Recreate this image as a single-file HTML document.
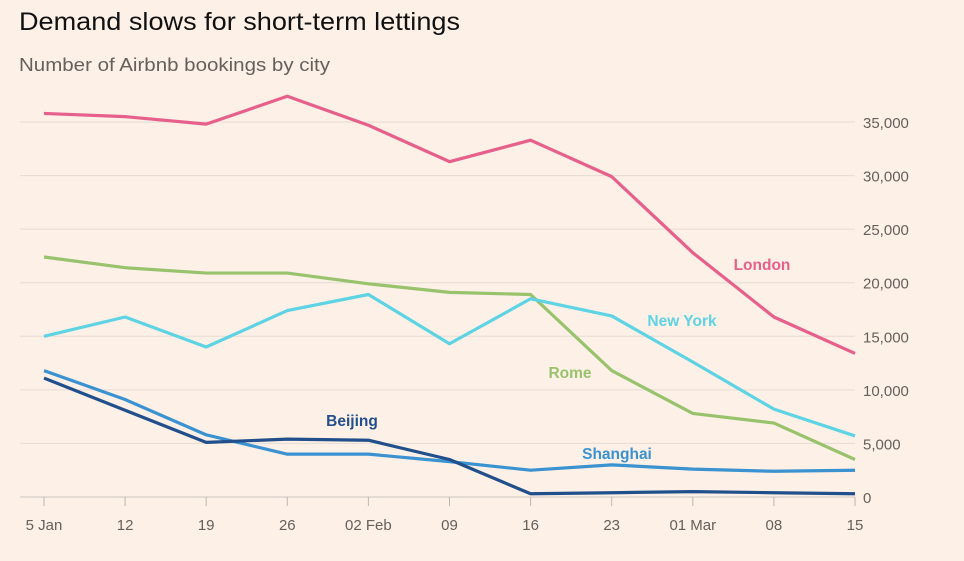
<!DOCTYPE html>
<html><head><meta charset="utf-8"><style>
body{margin:0;background:#fcf0e7;width:964px;height:556px;overflow:hidden;font-family:"Liberation Sans",sans-serif}
</style></head><body>
<svg width="964" height="556">
<text x="19" y="30" font-size="25" fill="#111" textLength="441" lengthAdjust="spacingAndGlyphs">Demand slows for short-term lettings</text>
<text x="19" y="71" font-size="18" fill="#66605c" textLength="311" lengthAdjust="spacingAndGlyphs">Number of Airbnb bookings by city</text>
<g id="grid"></g><g id="lines"></g><g id="labels"></g>
</svg>
<script>
const categories=["5 Jan","12","19","26","02 Feb","09","16","23","01 Mar","08","15"];
const yTicks=[0,5000,10000,15000,20000,25000,30000,35000];
const london=[35800,35500,34800,37400,34700,31300,33300,29900,22800,16800,13400];
const rome=[22400,21400,20900,20900,19900,19100,18900,11800,7800,6900,3500];
const newYork=[15000,16800,14000,17400,18900,14300,18500,16900,12600,8200,5700];
const beijing=[11100,8100,5100,5400,5300,3500,300,400,500,400,300];
const shanghai=[11800,9100,5800,4000,4000,3300,2500,3000,2600,2400,2500];
const NS="http://www.w3.org/2000/svg";
const x=i=>44+i*(855-44)/(categories.length-1);
const y=v=>497-v*(497-122)/35000;
function mk(t,a,p){const e=document.createElementNS(NS,t);for(const k in a)e.setAttribute(k,a[k]);document.querySelector(p).appendChild(e);return e;}
yTicks.forEach(v=>{
 const l=mk("line",{x1:20,x2:855,y1:y(v),y2:y(v),stroke:v===0?"#ccc6c0":"#e6dcd4","stroke-width":1},"#grid");
 
 
 const t=mk("text",{x:863,y:y(v)+6,"font-size":15,fill:"#66605c"},"#grid");t.textContent=v.toLocaleString("en-US");
 
 
});
categories.forEach((c,i)=>{
 const l=mk("line",{x1:x(i),x2:x(i),y1:497,y2:506,stroke:"#bdb6b0","stroke-width":1},"#grid");
 
 
 const t=mk("text",{x:x(i),y:530,"font-size":15,fill:"#66605c","text-anchor":"middle"},"#grid");t.textContent=c;
 
 
});
const series=[["rome",rome,"#98c26c"],["new-york",newYork,"#5dd3e3"],["shanghai",shanghai,"#3b92d0"],["beijing",beijing,"#214f8c"],["london",london,"#e6608b"]];
series.forEach(([n,d,c])=>{
 const p=mk("polyline",{points:d.map((v,i)=>x(i)+","+y(v)).join(" "),fill:"none",stroke:c,"stroke-width":3.2,"stroke-linejoin":"round"},"#lines");
 
 
});
const labels=[["London",762,270,"#e6608b"],["New York",682,326,"#5dd3e3"],["Rome",570,378,"#98c26c"],["Beijing",352,426,"#214f8c"],["Shanghai",617,459,"#3b92d0"]];
labels.forEach(([t,lx,ly,c])=>{
 const e=mk("text",{x:lx,y:ly,"font-size":15.5,"font-weight":"bold",fill:c,"text-anchor":"middle"},"#labels");e.textContent=t;
 
 
});
</script>
</body></html>
